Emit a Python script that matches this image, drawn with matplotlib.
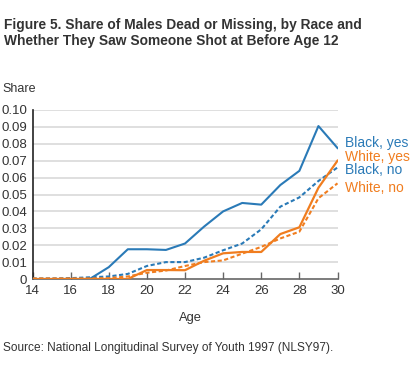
import matplotlib
matplotlib.use("Agg")
import matplotlib.pyplot as plt
import numpy as np

ages = list(range(14, 31))
black_yes = [0, 0, 0, 0, 0.007, 0.0176, 0.0176, 0.0172, 0.021, 0.031, 0.040, 0.045, 0.044, 0.0556, 0.064, 0.0905, 0.0775]
black_no = [0.0003, 0.0003, 0.0005, 0.001, 0.0015, 0.003, 0.0077, 0.010, 0.010, 0.0126, 0.017, 0.021, 0.0294, 0.0428, 0.0483, 0.058, 0.066]
white_yes = [0, 0, 0, 0, 0, 0, 0.0053, 0.0053, 0.0052, 0.0108, 0.0152, 0.016, 0.016, 0.0266, 0.0306, 0.054, 0.070]
white_no = [0.0003, 0.0003, 0.0003, 0.0003, 0.0005, 0.0015, 0.0037, 0.005, 0.0077, 0.010, 0.011, 0.015, 0.019, 0.024, 0.028, 0.0478, 0.0566]
yticks = [0, 0.01, 0.02, 0.03, 0.04, 0.05, 0.06, 0.07, 0.08, 0.09, 0.10]
ytick_labels = ["0", "0.01", "0.02", "0.03", "0.04", "0.05", "0.06", "0.07", "0.08", "0.09", "0.10"]
xticks = list(range(14, 31, 2))

BLUE = "#2a7ab7"
ORANGE = "#f07d1f"
TXT = "#333333"

plt.rcParams['font.family'] = ['Liberation Sans', 'DejaVu Sans']

fig = plt.figure(figsize=(4.2, 3.72), dpi=100)
ax = fig.add_axes([32.5/420, 1-279/372, (337.5-32.5)/420, (279-110)/372])

for y in yticks[1:]:
    ax.axhline(y, color="#d9d9d9", lw=1.2, zorder=0)

ax.plot(ages, black_yes, color=BLUE, lw=1.5, zorder=3)
ax.plot(ages, black_no, color=BLUE, lw=1.5, ls=(0, (2, 1.2)), zorder=3)
ax.plot(ages, white_yes, color=ORANGE, lw=1.6, zorder=4)
ax.plot(ages, white_no, color=ORANGE, lw=1.5, ls=(0, (2, 1.2)), zorder=3)

ax.set_xlim(14, 30)
ax.set_ylim(0, 0.10)
ax.set_yticks(yticks)
ax.set_yticklabels(ytick_labels)
ax.set_xticks(xticks)
ax.tick_params(axis='y', length=0, labelsize=9.5, colors=TXT, pad=4)
ax.tick_params(axis='x', direction='in', length=5, width=1, color="#666666", labelsize=9.5, labelcolor=TXT, pad=4)
for s in ['top', 'right']:
    ax.spines[s].set_visible(False)
ax.spines['left'].set_color("#222222")
ax.spines['left'].set_linewidth(1.2)
ax.spines['bottom'].set_color("#666666")
ax.spines['bottom'].set_linewidth(1.2)
ax.set_facecolor('white')

# series labels
lbl_fs = 10
fig.text(345/420, 1-143/372, "Black, yes", color=BLUE, fontsize=lbl_fs, va='center', ha='left')
fig.text(345/420, 1-157/372, "White, yes", color=ORANGE, fontsize=lbl_fs, va='center', ha='left')
fig.text(345/420, 1-170/372, "Black, no", color=BLUE, fontsize=lbl_fs, va='center', ha='left')
fig.text(345/420, 1-188/372, "White, no", color=ORANGE, fontsize=lbl_fs, va='center', ha='left')

fig.text(4/420, 1-25/372, "Figure 5. Share of Males Dead or Missing, by Race and",
         fontsize=9.9, fontweight='bold', color=TXT, va='center', ha='left')
fig.text(4/420, 1-41/372, "Whether They Saw Someone Shot at Before Age 12",
         fontsize=9.9, fontweight='bold', color=TXT, va='center', ha='left')
fig.text(2/420, 1-89/372, "Share", fontsize=9, color=TXT, va='center', ha='left')
fig.text(190/420, 1-318/372, "Age", fontsize=9.3, color=TXT, va='center', ha='center')
fig.text(3/420, 1-348/372, "Source: National Longitudinal Survey of Youth 1997 (NLSY97).",
         fontsize=8.6, color=TXT, va='center', ha='left')

fig.savefig("out.png", dpi=100, facecolor='white')
